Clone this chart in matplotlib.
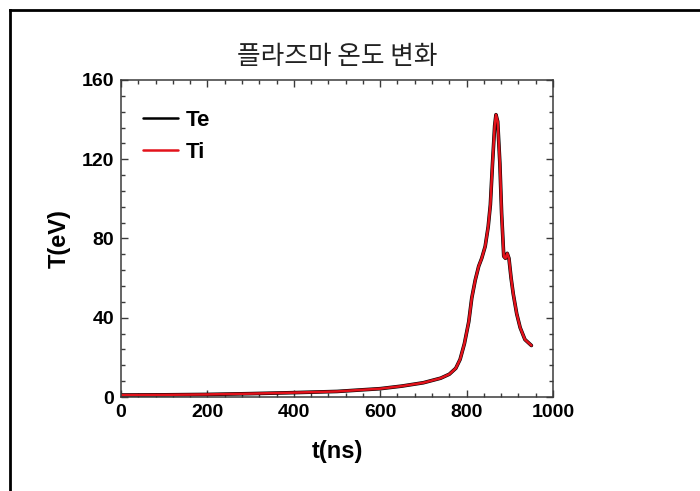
import matplotlib
matplotlib.use("Agg")
import matplotlib.pyplot as plt
from matplotlib.lines import Line2D
from matplotlib.ticker import MultipleLocator

# Electron / ion temperature history (both species track each other)
t_ns = [0, 100, 200, 300, 400, 500, 600, 650, 700, 740, 760, 775, 785, 795,
        805, 812, 820, 828, 835, 843, 850, 855, 860, 865, 868, 872, 877, 881,
        886, 890, 894, 898, 903, 908, 916, 924, 935, 950]
te_ev = [1.0, 1.1, 1.3, 1.7, 2.2, 2.8, 4.2, 5.5, 7.2, 9.5, 11.5, 14.5, 19, 27,
         38, 50, 59, 66, 70, 76, 86, 97, 118, 137, 142.5, 139, 118, 93,
         71, 70, 72.5, 70, 60, 52, 42, 35, 29, 26]
ti_ev = list(te_ev)

TITLE = "플라즈마 온도 변화"
X_TICKS = [0, 200, 400, 600, 800, 1000]
Y_TICKS = [0, 40, 80, 120, 160]

SANS = ["Liberation Sans", "DejaVu Sans"]
KOREAN = ["Noto Sans CJK KR", "DejaVu Sans"]
SPINE_COLOR = "#3a3a3a"

fig = plt.figure(figsize=(7.0, 4.91), dpi=100)
ax = fig.add_axes([121 / 700, 94 / 491, 432 / 700, 317 / 491])

ax.plot(t_ns, te_ev, color="black", lw=2.6, label="Te", solid_capstyle="round")
ax.plot(t_ns, ti_ev, color="#e3121b", lw=1.8, label="Ti", solid_capstyle="round")

ax.set_xlim(0, 1000)
ax.set_ylim(0, 160)
ax.set_xticks(X_TICKS)
ax.set_yticks(Y_TICKS)
ax.xaxis.set_minor_locator(MultipleLocator(40))
ax.yaxis.set_minor_locator(MultipleLocator(8))
ax.tick_params(which="both", direction="in", top=True, right=True,
               color=SPINE_COLOR, width=1.0)
ax.tick_params(which="major", length=5, pad=5)
ax.tick_params(which="minor", length=3)

for label in ax.get_xticklabels() + ax.get_yticklabels():
    label.set_family(SANS)
    label.set_fontweight("bold")
    label.set_fontsize(14)

for spine in ax.spines.values():
    spine.set_color(SPINE_COLOR)
    spine.set_linewidth(1.1)

ax.set_xlabel("t(ns)", family=SANS, fontweight="bold", fontsize=17, labelpad=14)
ax.set_ylabel("T(eV)", family=SANS, fontweight="bold", fontsize=17, labelpad=8)

fig.text(337 / 700, 1 - 57 / 491, TITLE, family=KOREAN, fontsize=18.5,
         ha="center", va="center", color="#222222")

leg = ax.legend(loc="upper left", bbox_to_anchor=(0.0, 0.975), frameon=False,
                prop={"family": SANS, "weight": "bold", "size": 16},
                handlelength=1.55, handletextpad=0.35, labelspacing=0.5,
                borderaxespad=0.6)
for handle in leg.get_lines():
    handle.set_linewidth(1.8)

# outer frame along the top and left edges
fig.add_artist(Line2D([10 / 700, 1.0], [1 - 10 / 491, 1 - 10 / 491],
                      transform=fig.transFigure, color="black", lw=2.0))
fig.add_artist(Line2D([10 / 700, 10 / 700], [0.0, 1 - 10 / 491],
                      transform=fig.transFigure, color="black", lw=2.0))

fig.savefig("out.png", dpi=100)
plt.close(fig)
